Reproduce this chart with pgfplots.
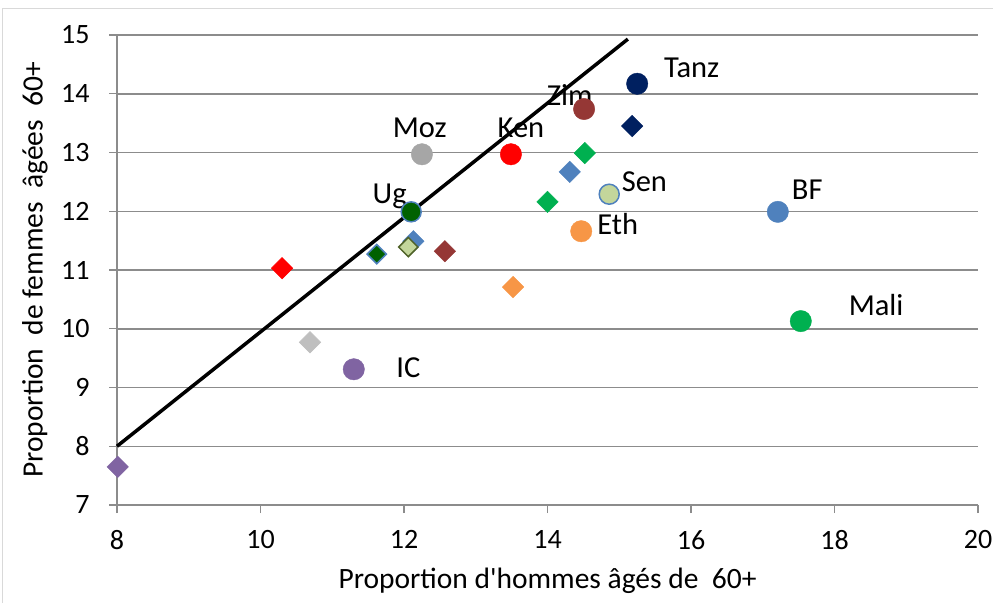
\documentclass[border=0pt]{standalone}
\usepackage{pgfplots}
\pgfplotsset{compat=1.18}
\usepackage{fontspec}
\setmainfont{Carlito}
\newfontfamily\plainapos{Carlito}
\definecolor{cnavy}{HTML}{002060}
\definecolor{cbrown}{HTML}{953735}
\definecolor{cgrey}{HTML}{A6A6A6}
\definecolor{clgrey}{HTML}{BFBFBF}
\definecolor{cred}{HTML}{FF0000}
\definecolor{cdgreen}{HTML}{006100}
\definecolor{cblue}{HTML}{4F81BD}
\definecolor{clgreen}{HTML}{C3D69B}
\definecolor{colive}{HTML}{4F6228}
\definecolor{corange}{HTML}{F79646}
\definecolor{cgreen}{HTML}{00B050}
\definecolor{cpurple}{HTML}{8064A2}
\definecolor{cgrid}{HTML}{8C8C8C}
\begin{document}
\begin{tikzpicture}
\path[use as bounding box] (-117pt,-98pt) rectangle (876pt,505pt);
\draw[color=black!15, line width=1pt] (-114pt,-98pt) -- (-114pt,496pt) -- (876pt,496pt);
\begin{axis}[
  at={(0,0)}, anchor=south west,
  scale only axis, width=861pt, height=470pt,
  xmin=8, xmax=20, ymin=7, ymax=15,
  xtick={8,10,...,20}, ytick={7,8,...,15},
  axis lines=left, axis line style={-, draw=cgrid, line width=1.2pt},
  ymajorgrids, grid style={draw=cgrid, line width=1.5pt},
  tick align=outside, major tick length=8pt,
  tick style={draw=cgrid, line width=1.2pt},
  /pgf/number format/assume math mode=true,
  ticklabel style={font=\fontsize{28}{32}\selectfont},
  xticklabel style={yshift=-14pt},
  yticklabel style={xshift=-16pt},
  xlabel={Proportion d{\plainapos'}hommes âgés de\ \ 60+},
  ylabel={Proportion\ \ de femmes\ \ âgées\ \ 60+},
  label style={font=\fontsize{29.5}{33}\selectfont},
  xlabel style={at={(axis description cs:0.5,-0.1617)}, anchor=center},
  ylabel style={at={(axis description cs:-0.0952,0.5)}, anchor=center},
  clip=false,
]
% data labels
\begin{scope}[every node/.style={font=\fontsize{30.5}{34}\selectfont, anchor=center}]
\node at (axis cs:16.01,14.44) {Tanz};
\node at (axis cs:14.31,13.98) {Zim};
\node at (axis cs:12.22,13.42) {Moz};
\node at (axis cs:13.63,13.42) {Ken};
\node at (axis cs:11.80,12.26) {Ug};
\node at (axis cs:15.35,12.51) {Sen};
\node at (axis cs:17.62,12.36) {BF};
\node at (axis cs:14.98,11.78) {Eth};
\node at (axis cs:18.58,10.40) {Mali};
\node at (axis cs:12.06,9.33) {IC};
\end{scope}
% diamonds
\pgfplotsset{dia/.style={only marks, mark=square*, mark size=7.6pt, mark options={rotate=45,#1}}}
\addplot[dia={draw=cnavy, fill=cnavy}] coordinates {(15.18,13.45)};
\addplot[dia={draw=cgreen, fill=cgreen}] coordinates {(14.52,12.99)};
\addplot[dia={draw=cblue, fill=cblue}] coordinates {(14.31,12.67)};
\addplot[dia={draw=cgreen, fill=cgreen}] coordinates {(14.00,12.16)};
\addplot[dia={draw=corange, fill=corange}] coordinates {(13.52,10.71)};
\addplot[dia={draw=cbrown, fill=cbrown}] coordinates {(12.57,11.32)};
\addplot[dia={draw=cblue, fill=cblue}] coordinates {(12.13,11.49)};
\addplot[dia={draw=colive, fill=clgreen, line width=1.5pt}, mark size=6.8pt] coordinates {(12.06,11.39)};
\addplot[dia={draw=cblue, fill=cdgreen, line width=1.5pt}, mark size=6.8pt] coordinates {(11.62,11.27)};
\addplot[dia={draw=cred, fill=cred}] coordinates {(10.30,11.03)};
\addplot[dia={draw=clgrey, fill=clgrey}] coordinates {(10.69,9.77)};
\addplot[dia={draw=cpurple, fill=cpurple}] coordinates {(8.01,7.65)};
% circles
\pgfplotsset{circ/.style={only marks, mark=*, mark size=10.7pt}}
\addplot[circ, mark options={draw=cnavy, fill=cnavy}] coordinates {(15.25,14.17)};
\addplot[circ, mark options={draw=cbrown, fill=cbrown}] coordinates {(14.51,13.74)};
\addplot[circ, mark options={draw=cgrey, fill=cgrey}] coordinates {(12.25,12.97)};
\addplot[circ, mark options={draw=cred, fill=cred}] coordinates {(13.49,12.97)};
\addplot[circ, mark size=10pt, mark options={draw=cblue, fill=cdgreen, line width=1.5pt}] coordinates {(12.10,11.99)};
\addplot[circ, mark size=10pt, mark options={draw=cblue, fill=clgreen, line width=1.5pt}] coordinates {(14.86,12.29)};
\addplot[circ, mark options={draw=cblue, fill=cblue}] coordinates {(17.21,11.99)};
\addplot[circ, mark options={draw=corange, fill=corange}] coordinates {(14.47,11.66)};
\addplot[circ, mark options={draw=cgreen, fill=cgreen}] coordinates {(17.53,10.13)};
\addplot[circ, mark options={draw=cpurple, fill=cpurple}] coordinates {(11.30,9.31)};
% line
\addplot[black, line width=3.5pt, no marks] coordinates {(8.0,8.0) (15.12,14.93)};
\end{axis}
\end{tikzpicture}
\end{document}
